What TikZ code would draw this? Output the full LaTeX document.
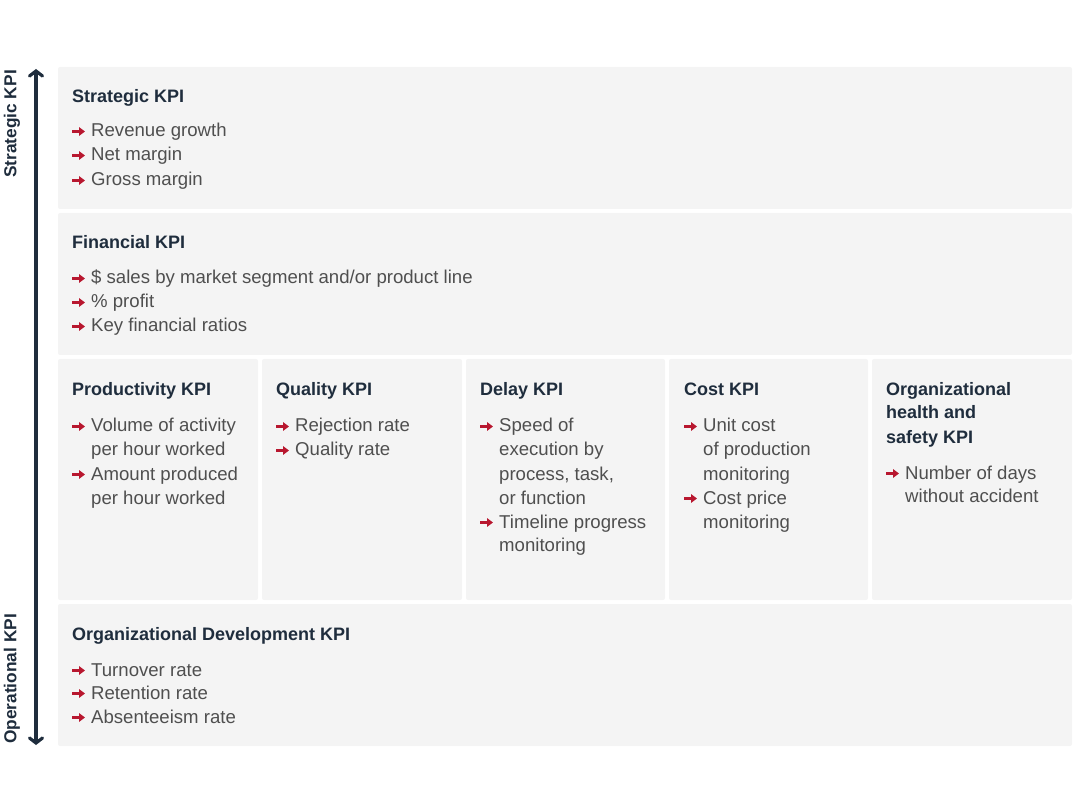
\documentclass[tikz,border=0pt]{standalone}
\usepackage{fontspec}
\setmainfont{Liberation Sans}
\usetikzlibrary{arrows.meta}
\definecolor{navy}{HTML}{1F2D3D}
\definecolor{bodygray}{HTML}{4F4F4F}
\definecolor{kred}{HTML}{B8172F}
\definecolor{boxfill}{HTML}{F4F4F4}
\tikzset{
  box/.style={fill=boxfill, rounded corners=2pt},
  hd/.style={font=\bfseries\fontsize{18}{22}\selectfont, text=navy, anchor=base west, inner sep=0pt},
  tx/.style={font=\fontsize{18.6}{24}\selectfont, text=bodygray, anchor=base west, inner sep=0pt},
  bul/.style={draw=kred, line width=2.5pt, -{Triangle[length=6pt,width=8.5pt]}},
  axis/.style={draw=navy, line width=3.2pt, line cap=round, {Straight Barb[length=5pt,width=13pt,line cap=round]}-{Straight Barb[length=5pt,width=13pt,line cap=round]}},
  axlab/.style={font=\bfseries\fontsize{17.3}{20}\selectfont, text=navy, rotate=90, inner sep=0pt}
}
\newcommand{\bulat}[2]{\draw[bul] (#1,#2-5.5) -- ++(13,0);}
\begin{document}
\begin{tikzpicture}[x=1pt,y=-1pt]
\useasboundingbox (0,0) rectangle (1080,810);
% boxes
\path[box] (58,67) rectangle (1072,209);
\path[box] (58,213) rectangle (1072,355);
\path[box] (58,359) rectangle (258,600);
\path[box] (262,359) rectangle (462,600);
\path[box] (466,359) rectangle (665,600);
\path[box] (669,359) rectangle (868,600);
\path[box] (872,359) rectangle (1072,600);
\path[box] (58,604) rectangle (1072,746);
% axis
\coordinate (atop) at (36,69);
\coordinate (abot) at (36,745);
\draw[axis] (abot) -- (atop);
\node[axlab] (lstr) at (12,124) {Strategic KPI};
\node[axlab] (lop) at (12,679) {Operational KPI};
% Strategic
\node[hd] (st) at (72,103) {Strategic KPI};
\bulat{72}{137}\node[tx] (st1) at (91,137) {Revenue growth};
\bulat{72}{161}\node[tx] (st2) at (91,161) {Net margin};
\bulat{72}{186}\node[tx] (st3) at (91,186) {Gross margin};
% Financial
\node[hd] (fi) at (72,249) {Financial KPI};
\bulat{72}{284}\node[tx] (fi1) at (91,284) {\$ sales by market segment and/or product line};
\bulat{72}{308}\node[tx] (fi2) at (91,308) {\% profit};
\bulat{72}{332}\node[tx] (fi3) at (91,332) {Key financial ratios};
% Productivity
\node[hd] (pr) at (72,396) {Productivity KPI};
\bulat{72}{432}\node[tx] (pr1) at (91,432) {Volume of activity};
\node[tx] (pr2) at (91,456) {per hour worked};
\bulat{72}{480}\node[tx] (pr3) at (91,480) {Amount produced};
\node[tx] (pr4) at (91,504) {per hour worked};
% Quality
\node[hd] (qu) at (276,396) {Quality KPI};
\bulat{276}{432}\node[tx] (qu1) at (295,432) {Rejection rate};
\bulat{276}{456}\node[tx] (qu2) at (295,456) {Quality rate};
% Delay
\node[hd] (de) at (480,396) {Delay KPI};
\bulat{480}{432}\node[tx] (de1) at (499,432) {Speed of};
\node[tx] (de2) at (499,456) {execution by};
\node[tx] (de3) at (499,480) {process, task,};
\node[tx] (de4) at (499,504) {or function};
\bulat{480}{528}\node[tx] (de5) at (499,528) {Timeline progress};
\node[tx] (de6) at (499,551) {monitoring};
% Cost
\node[hd] (co) at (684,396) {Cost KPI};
\bulat{684}{432}\node[tx] (co1) at (703,432) {Unit cost};
\node[tx] (co2) at (703,456) {of production};
\node[tx] (co3) at (703,480) {monitoring};
\bulat{684}{504}\node[tx] (co4) at (703,504) {Cost price};
\node[tx] (co5) at (703,528) {monitoring};
% Org health
\node[hd] (oh1) at (886,396) {Organizational};
\node[hd] (oh2) at (886,419) {health and};
\node[hd] (oh3) at (886,443) {safety KPI};
\bulat{886}{479}\node[tx] (oh4) at (905,479) {Number of days};
\node[tx] (oh5) at (905,503) {without accident};
% Org dev
\node[hd] (od) at (72,640) {Organizational Development KPI};
\bulat{72}{676}\node[tx] (od1) at (91,676) {Turnover rate};
\bulat{72}{699}\node[tx] (od2) at (91,699) {Retention rate};
\bulat{72}{723}\node[tx] (od3) at (91,723) {Absenteeism rate};
\end{tikzpicture}
\end{document}
